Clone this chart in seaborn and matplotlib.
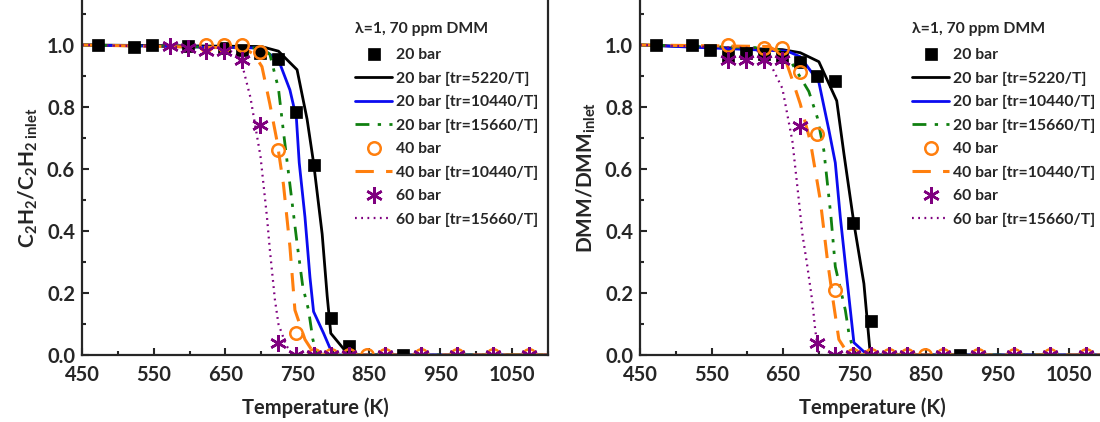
import matplotlib
matplotlib.use("Agg")
import matplotlib.pyplot as plt
import seaborn as sns
from matplotlib.lines import Line2D
from matplotlib.ticker import MultipleLocator

# ---- left panel: C2H2 ----
c2h2_20_T = [473, 523, 548, 598, 648, 673, 698, 723, 748, 773, 798, 823, 898]
c2h2_20_v = [1.0, 0.995, 1.0, 0.998, 0.99, 0.985, 0.975, 0.955, 0.784, 0.612, 0.118, 0.03, 0.0]
c2h2_40_T = [623, 648, 673, 698, 723, 748, 773, 798, 823, 848, 873, 923, 973, 1023, 1073]
c2h2_40_v = [1.0, 1.0, 1.0, 0.978, 0.66, 0.072, 0, 0, 0, 0, 0, 0, 0, 0, 0]
c2h2_60_T = [573, 598, 623, 648, 673, 698, 723, 748, 773, 798, 823, 873, 923, 973, 1023, 1073]
c2h2_60_v = [0.997, 0.99, 0.98, 0.98, 0.95, 0.742, 0.04, 0, 0, 0, 0, 0, 0, 0, 0, 0]

c2h2_m5220_T = [450, 700, 724, 750, 764, 773, 785, 792, 797, 822, 1100]
c2h2_m5220_v = [1.0, 0.995, 0.98, 0.92, 0.76, 0.62, 0.39, 0.19, 0.07, 0.0, 0.0]
c2h2_m10440_T = [450, 700, 710, 724, 740, 749, 753, 761, 768, 773, 787, 800, 1100]
c2h2_m10440_v = [1.0, 0.99, 0.973, 0.952, 0.855, 0.765, 0.62, 0.445, 0.25, 0.14, 0.07, 0.0, 0.0]
c2h2_m15660_T = [450, 700, 712, 724, 731, 740, 750, 758, 766, 772, 778, 1100]
c2h2_m15660_v = [1.0, 0.99, 0.97, 0.86, 0.72, 0.55, 0.36, 0.22, 0.145, 0.05, 0.0, 0.0]
c2h2_40m_T = [450, 675, 690, 701, 712, 722, 731, 740, 747, 761, 775, 1100]
c2h2_40m_v = [1.0, 0.99, 0.97, 0.93, 0.81, 0.69, 0.55, 0.35, 0.145, 0.05, 0.0, 0.0]
c2h2_60m_T = [450, 650, 665, 673, 685, 699, 708, 712, 719, 724, 735, 745, 1100]
c2h2_60m_v = [1.0, 0.99, 0.97, 0.94, 0.83, 0.64, 0.445, 0.34, 0.18, 0.10, 0.03, 0.0, 0.0]

# ---- right panel: DMM ----
dmm_20_T = [473, 523, 548, 573, 598, 623, 648, 673, 698, 723, 748, 773, 898]
dmm_20_v = [1.0, 1.0, 0.985, 0.965, 0.975, 0.97, 0.962, 0.946, 0.90, 0.885, 0.425, 0.11, 0.0]
dmm_40_T = [573, 623, 648, 673, 698, 723, 748, 773, 798, 823, 848, 873, 923, 973, 1023, 1073]
dmm_40_v = [1.0, 0.99, 0.99, 0.912, 0.713, 0.21, 0, 0, 0, 0, 0, 0, 0, 0, 0, 0]
dmm_60_T = [573, 598, 623, 648, 673, 698, 723, 748, 773, 798, 823, 873, 923, 973, 1023, 1073]
dmm_60_v = [0.952, 0.952, 0.952, 0.952, 0.739, 0.04, 0, 0, 0, 0, 0, 0, 0, 0, 0, 0]

dmm_m5220_T = [450, 649, 674, 700, 725, 735, 749, 763, 772, 1100]
dmm_m5220_v = [1.0, 0.985, 0.975, 0.946, 0.82, 0.65, 0.425, 0.23, 0.0, 0.0]
dmm_m10440_T = [450, 656, 674, 700, 714, 723, 730, 740, 749, 768, 1100]
dmm_m10440_v = [1.0, 0.98, 0.962, 0.88, 0.726, 0.62, 0.445, 0.23, 0.04, 0.0, 0.0]
dmm_m15660_T = [450, 640, 660, 686, 698, 707, 717, 723, 737, 742, 750, 1100]
dmm_m15660_v = [1.0, 0.99, 0.95, 0.85, 0.765, 0.66, 0.445, 0.285, 0.145, 0.07, 0.0, 0.0]
dmm_40m_T = [450, 630, 651, 663, 674, 688, 702, 712, 719, 728, 742, 1100]
dmm_40m_v = [1.0, 0.995, 0.968, 0.887, 0.81, 0.69, 0.5, 0.306, 0.19, 0.05, 0.0, 0.0]
dmm_60m_T = [450, 610, 632, 649, 663, 672, 677, 684, 691, 695, 700, 1100]
dmm_60m_v = [1.0, 0.99, 0.94, 0.86, 0.69, 0.5, 0.39, 0.285, 0.17, 0.08, 0.0, 0.0]

legend_title = "λ=1, 70 ppm DMM"
labels = ["20 bar", "20 bar [tr=5220/T]", "20 bar [tr=10440/T]", "20 bar [tr=15660/T]",
          "40 bar", "40 bar [tr=10440/T]", "60 bar", "60 bar [tr=15660/T]"]

BLACK, BLUE, GREEN, ORANGE, PURPLE = "#000000", "#0b0bf0", "#108010", "#ff7f0e", "#7f007f"
ASTER = (6, 2, 0)

sns.set_style("ticks")
plt.rcParams["font.family"] = ["Lato", "DejaVu Sans"]
plt.rcParams["font.weight"] = "bold"
plt.rcParams["mathtext.fontset"] = "custom"
plt.rcParams["mathtext.rm"] = "Lato:bold"
plt.rcParams["mathtext.it"] = "Lato:bold"
plt.rcParams["mathtext.bf"] = "Lato:bold"

styles = {
    "m5220": dict(color=BLACK, linestyle="-", linewidth=2.0),
    "m10440": dict(color=BLUE, linestyle="-", linewidth=2.0),
    "m15660": dict(color=GREEN, linestyle=(0, (5, 3, 1.2, 3, 1.2, 3)), linewidth=2.0),
    "40m": dict(color=ORANGE, linestyle=(0, (6, 4)), linewidth=2.2),
    "60m": dict(color=PURPLE, linestyle=(0, (0.8, 2.0)), linewidth=1.6),
}
mk20 = dict(marker="s", color=BLACK, markersize=8.5, markeredgecolor=BLACK, markeredgewidth=0.5)
mk40 = dict(marker="o", color=ORANGE, markersize=9, markerfacecolor="none",
            markeredgecolor=ORANGE, markeredgewidth=1.8)
mk60 = dict(marker=ASTER, color=PURPLE, markersize=12, markeredgecolor=PURPLE, markeredgewidth=1.8)

FS = 14.5
LFS = 11.3


def draw_panel(ax, pts20, pts40, pts60, lines, ylabel, ax_h_px):
    for key, (T, v) in lines.items():
        sns.lineplot(x=T, y=v, ax=ax, sort=False, **styles[key])
    for (T, v), mk in ((pts20, mk20), (pts40, mk40), (pts60, mk60)):
        sns.lineplot(x=T, y=v, ax=ax, sort=False, linestyle="none", **mk)

    ax.set_xlim(450, 1100)
    ax.set_ylim(0, 1.145)
    ax.set_xticks(range(450, 1100, 100))
    ax.xaxis.set_minor_locator(MultipleLocator(50))
    ax.set_yticks([0.0, 0.2, 0.4, 0.6, 0.8, 1.0])
    ax.set_yticklabels(["0.0", "0.2", "0.4", "0.6", "0.8", "1.0"])
    ax.yaxis.set_minor_locator(MultipleLocator(0.1))
    ax.tick_params(which="both", direction="in", width=1.5, labelsize=FS)
    ax.tick_params(axis="x", which="major", pad=7)
    ax.tick_params(axis="y", which="major", pad=5)
    ax.tick_params(which="major", length=5)
    ax.tick_params(which="minor", length=3)
    for side in ("left", "bottom", "right"):
        ax.spines[side].set_linewidth(1.6)
    ax.spines["top"].set_visible(False)
    ax.set_xlabel("Temperature (K)", fontsize=FS, fontweight="bold", labelpad=9)
    ax.set_ylabel(ylabel, fontsize=15, fontweight="bold", labelpad=5)

    handles = [
        Line2D([], [], linestyle="none", **mk20),
        Line2D([], [], **styles["m5220"]),
        Line2D([], [], **styles["m10440"]),
        Line2D([], [], **styles["m15660"]),
        Line2D([], [], linestyle="none", **mk40),
        Line2D([], [], **styles["40m"]),
        Line2D([], [], linestyle="none", **mk60),
        Line2D([], [], **styles["60m"]),
    ]
    x0 = 0.586
    ax.text(x0, 1 - 29 / ax_h_px, legend_title, transform=ax.transAxes, ha="left",
            va="center", fontsize=LFS, fontweight="bold")
    leg = ax.legend(handles, labels, loc="upper left",
                    bbox_to_anchor=(x0, 1 - 48 / ax_h_px), frameon=False, fontsize=LFS,
                    handlelength=2.35, handletextpad=0.25,
                    labelspacing=0.6, borderpad=0.0, borderaxespad=0.0)
    for t in leg.get_texts():
        t.set_fontweight("bold")


fig = plt.figure(figsize=(11, 4.22), dpi=100)
ax1 = fig.add_axes([82 / 1100, 67 / 422, 466 / 1100, 355 / 422])
ax2 = fig.add_axes([640 / 1100, 67 / 422, 465 / 1100, 355 / 422])

draw_panel(ax1, (c2h2_20_T, c2h2_20_v), (c2h2_40_T, c2h2_40_v), (c2h2_60_T, c2h2_60_v),
           {"m5220": (c2h2_m5220_T, c2h2_m5220_v),
            "m10440": (c2h2_m10440_T, c2h2_m10440_v),
            "m15660": (c2h2_m15660_T, c2h2_m15660_v),
            "40m": (c2h2_40m_T, c2h2_40m_v),
            "60m": (c2h2_60m_T, c2h2_60m_v)},
           r"C$_{2}$H$_{2}$/C$_{2}$H$_{2\ \mathrm{inlet}}$", 355)
draw_panel(ax2, (dmm_20_T, dmm_20_v), (dmm_40_T, dmm_40_v), (dmm_60_T, dmm_60_v),
           {"m5220": (dmm_m5220_T, dmm_m5220_v),
            "m10440": (dmm_m10440_T, dmm_m10440_v),
            "m15660": (dmm_m15660_T, dmm_m15660_v),
            "40m": (dmm_40m_T, dmm_40m_v),
            "60m": (dmm_60m_T, dmm_60m_v)},
           r"DMM/DMM$_{\mathrm{inlet}}$", 355)

fig.savefig("out.png", dpi=100)
